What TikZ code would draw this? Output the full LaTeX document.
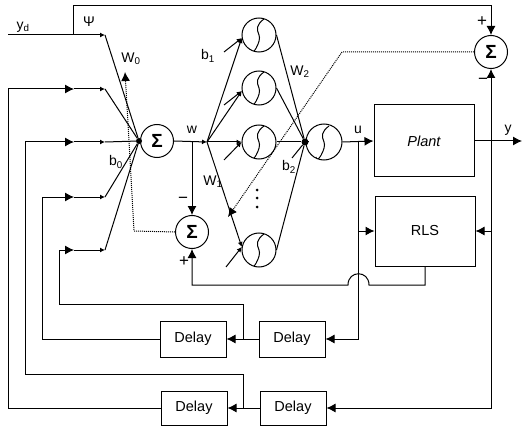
\documentclass[tikz,border=0pt]{standalone}
\usepackage{fontspec}
\setmainfont{Liberation Sans}
\usetikzlibrary{arrows.meta}
\tikzset{
  wire/.style={line width=1pt},
  bigtip/.style={wire, -{Latex[length=9pt,width=9pt]}},
  smalltip/.style={wire, -{Latex[length=5pt,width=5pt]}},
  dotwire/.style={line width=1pt, densely dotted},
  labeltext/.style={font=\fontsize{14}{16}\selectfont, inner sep=0pt},
  signtext/.style={font=\fontsize{17}{18}\selectfont, inner sep=0pt},
  block/.style={draw, wire, inner sep=0pt, font=\fontsize{14.5}{16}\selectfont},
  sumnode/.style={draw, wire, circle, minimum size=33pt, inner sep=0pt, font=\fontsize{19}{19}\selectfont\bfseries},
  neuron/.style={draw, wire, circle, minimum size=34pt, inner sep=0pt,
    path picture={\draw[wire] ([shift={(5pt,16pt)}]path picture bounding box.center) .. controls +(-7pt,-5pt) and +(-3pt,6pt) .. ([shift={(0pt,0pt)}]path picture bounding box.center) .. controls +(3pt,-6pt) and +(0pt,-9pt) .. ([shift={(-8pt,-15pt)}]path picture bounding box.center);}},
  junction/.style={fill, circle, inner sep=0pt, minimum size=6pt},
  dotmark/.style={fill, circle, inner sep=0pt, minimum size=3pt}
}
\begin{document}
\begin{tikzpicture}[x=1pt,y=-1pt]
\useasboundingbox (0,0) rectangle (523,428);
% blocks
\node[sumnode] (sumA) at (157,141) {Σ};
\node[sumnode] (sumB) at (192,232) {Σ};
\node[sumnode] (sumR) at (491,52) {Σ};
\node[neuron] (nA) at (259,35) {};
\node[neuron] (nB) at (259,88) {};
\node[neuron] (nC) at (259,142) {};
\node[neuron] (nD) at (259,250) {};
\node[neuron, minimum size=36pt] (nOut) at (324,142) {};
\node[block, minimum width=100pt, minimum height=72pt] (plant) at (424,141) {\itshape Plant};
\node[block, minimum width=100pt, minimum height=70pt] (rls) at (425,231) {RLS};
\node[block, minimum width=66pt, minimum height=36pt] (delayA) at (193,339) {Delay};
\node[block, minimum width=66pt, minimum height=36pt] (delayB) at (292,339) {Delay};
\node[block, minimum width=66pt, minimum height=34pt] (delayC) at (194,408) {Delay};
\node[block, minimum width=66pt, minimum height=34pt] (delayD) at (293,408) {Delay};
\node[junction] (jA) at (139,141) {};
\node[junction, minimum size=7pt] (jB) at (305,142) {};
\node[dotmark] (dotA) at (257,190) {};
\node[dotmark] (dotB) at (257,198) {};
\node[dotmark] (dotC) at (257,207) {};
% free ends
\coordinate (ydS) at (8,35);
\coordinate (ydT) at (73,35);
\coordinate (ydE) at (105,35);
\coordinate (topL) at (73,6);
\coordinate (inAs) at (8,89);
\coordinate (inAm) at (74,89);
\coordinate (inAe) at (105,89);
\coordinate (inBs) at (25,142);
\coordinate (inBm) at (74,142);
\coordinate (inBe) at (105,142);
\coordinate (inCs) at (42,197);
\coordinate (inCm) at (74,197);
\coordinate (inCe) at (105,197);
\coordinate (inDs) at (59,250);
\coordinate (inDm) at (74,250);
\coordinate (inDe) at (105,250);
\coordinate (jC) at (207,142);
\coordinate (wTap) at (192,142);
\coordinate (uTap) at (358,142);
\coordinate (uRls) at (358,231);
\coordinate (yEnd) at (522,141);
\coordinate (yRls) at (491,231);
\coordinate (tapA) at (243,339);
\coordinate (tapAu) at (243,304);
\coordinate (tapC) at (243,408);
\coordinate (tapCu) at (243,374);
\coordinate (jumpR) at (369,285);
\coordinate (jumpL) at (348,285);
\coordinate (wzCa) at (134,231);
\coordinate (wzCb) at (128,123);
\coordinate (wzE) at (125,72);
\coordinate (wyC) at (342,52);
\coordinate (wyE) at (228,217);
\coordinate (bA) at (224,52);
\coordinate (bB) at (224,105);
\coordinate (bC) at (224,160);
\coordinate (bD) at (226,267);
\coordinate (bOut) at (292,158);
% inputs
\draw[wire] (ydS) -- (ydT);
\draw[smalltip] (ydT) -- (ydE);
\draw[wire] (ydE) -- (jA);
\draw[bigtip] (ydT) -- (topL) -| (sumR.north);
\draw[bigtip] (delayC.west) -| (inAs) -- (inAm);
\draw[smalltip] (inAm) -- (inAe);
\draw[wire] (inAe) -- (jA);
\draw[bigtip] (tapC) -- (tapCu) -| (inBs) -- (inBm);
\draw[smalltip] (inBm) -- (inBe);
\draw[wire] (inBe) -- (jA);
\draw[bigtip] (delayA.west) -| (inCs) -- (inCm);
\draw[smalltip] (inCm) -- (inCe);
\draw[wire] (inCe) -- (jA);
\draw[bigtip] (tapA) -- (tapAu) -| (inDs) -- (inDm);
\draw[smalltip] (inDm) -- (inDe);
\draw[wire] (inDe) -- (jA);
% network
\draw[smalltip] (sumA.east) -- (jC);
\draw[bigtip] (wTap) -- (sumB.north);
\draw[smalltip] (jC) -- (nA.190);
\draw[smalltip] (jC) -- (nB.190);
\draw[smalltip] (jC) -- (nC.west);
\draw[smalltip] (jC) -- (nD.170);
\draw[smalltip] (bA) -- (nA.190);
\draw[smalltip] (bB) -- (nB.190);
\draw[smalltip] (bC) -- (nC.west);
\draw[smalltip] (bD) -- (nD.170);
\draw[wire] (nA.east) -- (jB);
\draw[wire] (nB.east) -- (jB);
\draw[wire] (nC.east) -- (jB);
\draw[wire] (nD.east) -- (jB);
\draw[wire] (bOut) -- (jB);
\draw[wire] (jB) -- (nOut.west);
% plant and rls
\draw[bigtip] (nOut.east) -- (plant.west);
\draw[bigtip] (plant.east) -- (yEnd);
\draw[bigtip] (uRls) -- (rls.west);
\draw[bigtip] (yRls) -- (rls.east);
\draw[{Latex[length=9pt,width=9pt]}-{Latex[length=9pt,width=9pt]}, wire] (delayD.east) -| (sumR.south);
\draw[bigtip] (uTap) |- (delayB.east);
\draw[bigtip] (rls.south) |- (jumpR) .. controls +(0,-15) and +(0,-15) .. (jumpL) -| (sumB.south);
% delays
\draw[bigtip] (delayB.west) -- (delayA.east);
\draw[bigtip] (delayD.west) -- (delayC.east);
% dotted error lines
\draw[dotwire, -{Latex[length=9pt,width=9pt]}] (sumB.west) -- (wzCa) -- (wzCb) -- (wzE);
\draw[dotwire, -{Latex[length=9pt,width=9pt]}] (sumR.west) -- (wyC) -- (wyE);
% labels
\node[labeltext] (lyd) at (23,27) {y\textsubscript{d}};
\node[labeltext] (lpsi) at (89,22) {Ψ};
\node[labeltext] (lwz) at (131,59) {W\textsubscript{0}};
\node[labeltext] (lbz) at (116,162) {b\textsubscript{0}};
\node[labeltext] (lbo) at (208,56) {b\textsubscript{1}};
\node[labeltext] (lw) at (192,130) {w};
\node[labeltext] (lwo) at (213,182) {W\textsubscript{1}};
\node[labeltext] (lwt) at (300,72) {W\textsubscript{2}};
\node[labeltext] (lbt) at (289,167) {b\textsubscript{2}};
\node[labeltext] (lu) at (358,130) {u};
\node[labeltext] (ly) at (508,130) {y};
\node[signtext] (lmA) at (183,200) {−};
\node[signtext] (lpA) at (184,262) {+};
\node[signtext] (lpR) at (482,22) {+};
\node[signtext] (lmR) at (483,81) {−};
\end{tikzpicture}
\end{document}
